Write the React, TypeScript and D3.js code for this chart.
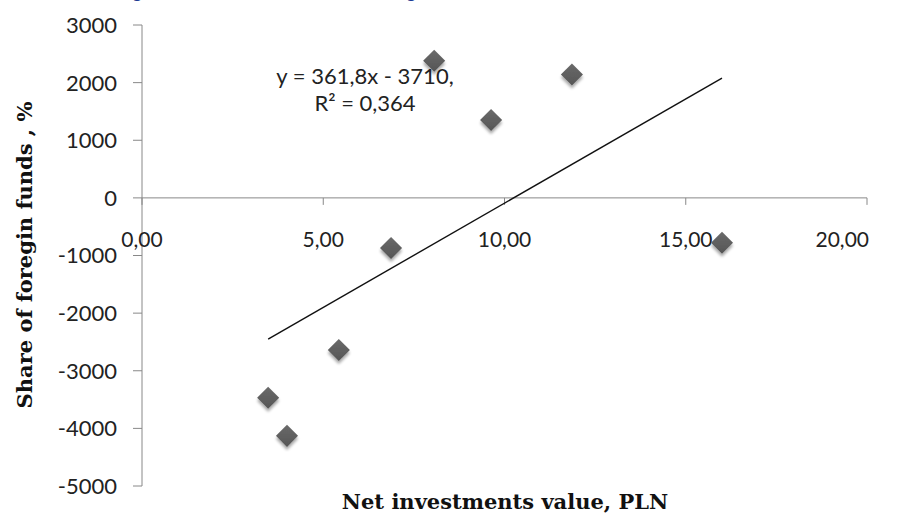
import React from "react";
import * as d3 from "d3";

const xValues = [3.48, 4.0, 5.43, 6.87, 8.06, 9.63, 11.86, 16.0];
const yValues = [-3470, -4130, -2640, -870, 2380, 1350, 2140, -780];
const xTicks = [0, 5, 10, 15, 20];
const yTicks = [3000, 2000, 1000, 0, -1000, -2000, -3000, -4000, -5000];
const slope = 361.8;
const intercept = -3710;
const equationLines = ["y = 361,8x - 3710,", "R² = 0,364"];
const xTitle = "Net investments value, PLN";
const yTitle = "Share of foregin funds , %";

const W = 897;
const H = 516;

export default function App() {
  const x = d3.scaleLinear().domain([0, 20]).range([142, 867]);
  const y = d3.scaleLinear().domain([-5000, 3000]).range([486, 25]);
  const fmt = (v: number) => v.toFixed(2).replace(".", ",");
  const xMin = d3.min(xValues) as number;
  const xMax = d3.max(xValues) as number;
  const trend = d3.line<number>().x((d) => x(d)).y((d) => y(slope * d + intercept))([xMin, xMax]) as string;
  const diamond = d3.symbol().type(d3.symbolDiamond2).size(310)() as string;
  const labelFont = "Lato, 'Open Sans', sans-serif";
  const titleFont = "'DejaVu Serif', 'Liberation Serif', serif";
  return (
    <svg width={W} height={H} style={{ position: "absolute", left: 0, top: 0, background: "#fff" }}>
      <defs>
        <filter id="sh" x="-50%" y="-50%" width="200%" height="200%">
          <feGaussianBlur in="SourceAlpha" stdDeviation="1.6" />
          <feOffset dx="0" dy="3" result="b" />
          <feComponentTransfer><feFuncA type="linear" slope="0.35" /></feComponentTransfer>
          <feMerge><feMergeNode /><feMergeNode in="SourceGraphic" /></feMerge>
        </filter>
        <linearGradient id="mg" x1="0" y1="0" x2="0" y2="1">
          <stop offset="0" stopColor="#6a6a6a" />
          <stop offset="1" stopColor="#555" />
        </linearGradient>
      </defs>
      <rect width={W} height={H} fill="#fff" />
      <text x={133} y={-2} fill="#1f3a93" fontWeight="bold" fontSize={16} fontFamily={labelFont}>g</text>
      <text x={407} y={-2} fill="#1f3a93" fontWeight="bold" fontSize={16} fontFamily={labelFont}>g</text>
      {/* y axis */}
      <line x1={x(0)} x2={x(0)} y1={y(3000)} y2={y(-5000)} stroke="#888" strokeWidth={1} />
      {yTicks.map((t) => (
        <g key={t}>
          <line x1={x(0) - 9} x2={x(0)} y1={y(t)} y2={y(t)} stroke="#888" />
          <text x={117} y={y(t)} dy="0.36em" textAnchor="end" fontSize={22} fontFamily={labelFont} fill="#222">{t}</text>
        </g>
      ))}
      {/* x axis */}
      <line x1={x(0)} x2={x(20)} y1={y(0)} y2={y(0)} stroke="#888" strokeWidth={1} />
      {xTicks.map((t, i) => (
        <g key={t}>
          <line x1={x(t)} x2={x(t)} y1={y(0)} y2={y(0) + 7} stroke="#888" />
          <text x={i === xTicks.length - 1 ? 869 : x(t)} y={247} textAnchor={i === xTicks.length - 1 ? "end" : "middle"} fontSize={21} fontFamily={labelFont} fill="#222">{fmt(t)}</text>
        </g>
      ))}
      <path d={trend} stroke="#111" strokeWidth={1.4} fill="none" />
      {xValues.map((v, i) => (
        <path key={i} d={diamond} transform={`translate(${x(v)},${y(yValues[i])})`} fill="url(#mg)" filter="url(#sh)" />
      ))}
      {equationLines.map((s, i) => (
        <text key={i} x={365} y={84 + i * 27} textAnchor="middle" fontSize={22} fontFamily={labelFont} fill="#222">
          {s}
        </text>
      ))}
      <text x={505} y={509} textAnchor="middle" fontSize={21} fontWeight="bold" fontFamily={titleFont} fill="#111">{xTitle}</text>
      <text transform={`translate(32,255) rotate(-90)`} textAnchor="middle" fontSize={21} fontWeight="bold" fontFamily={titleFont} fill="#111">{yTitle}</text>
    </svg>
  );
}
